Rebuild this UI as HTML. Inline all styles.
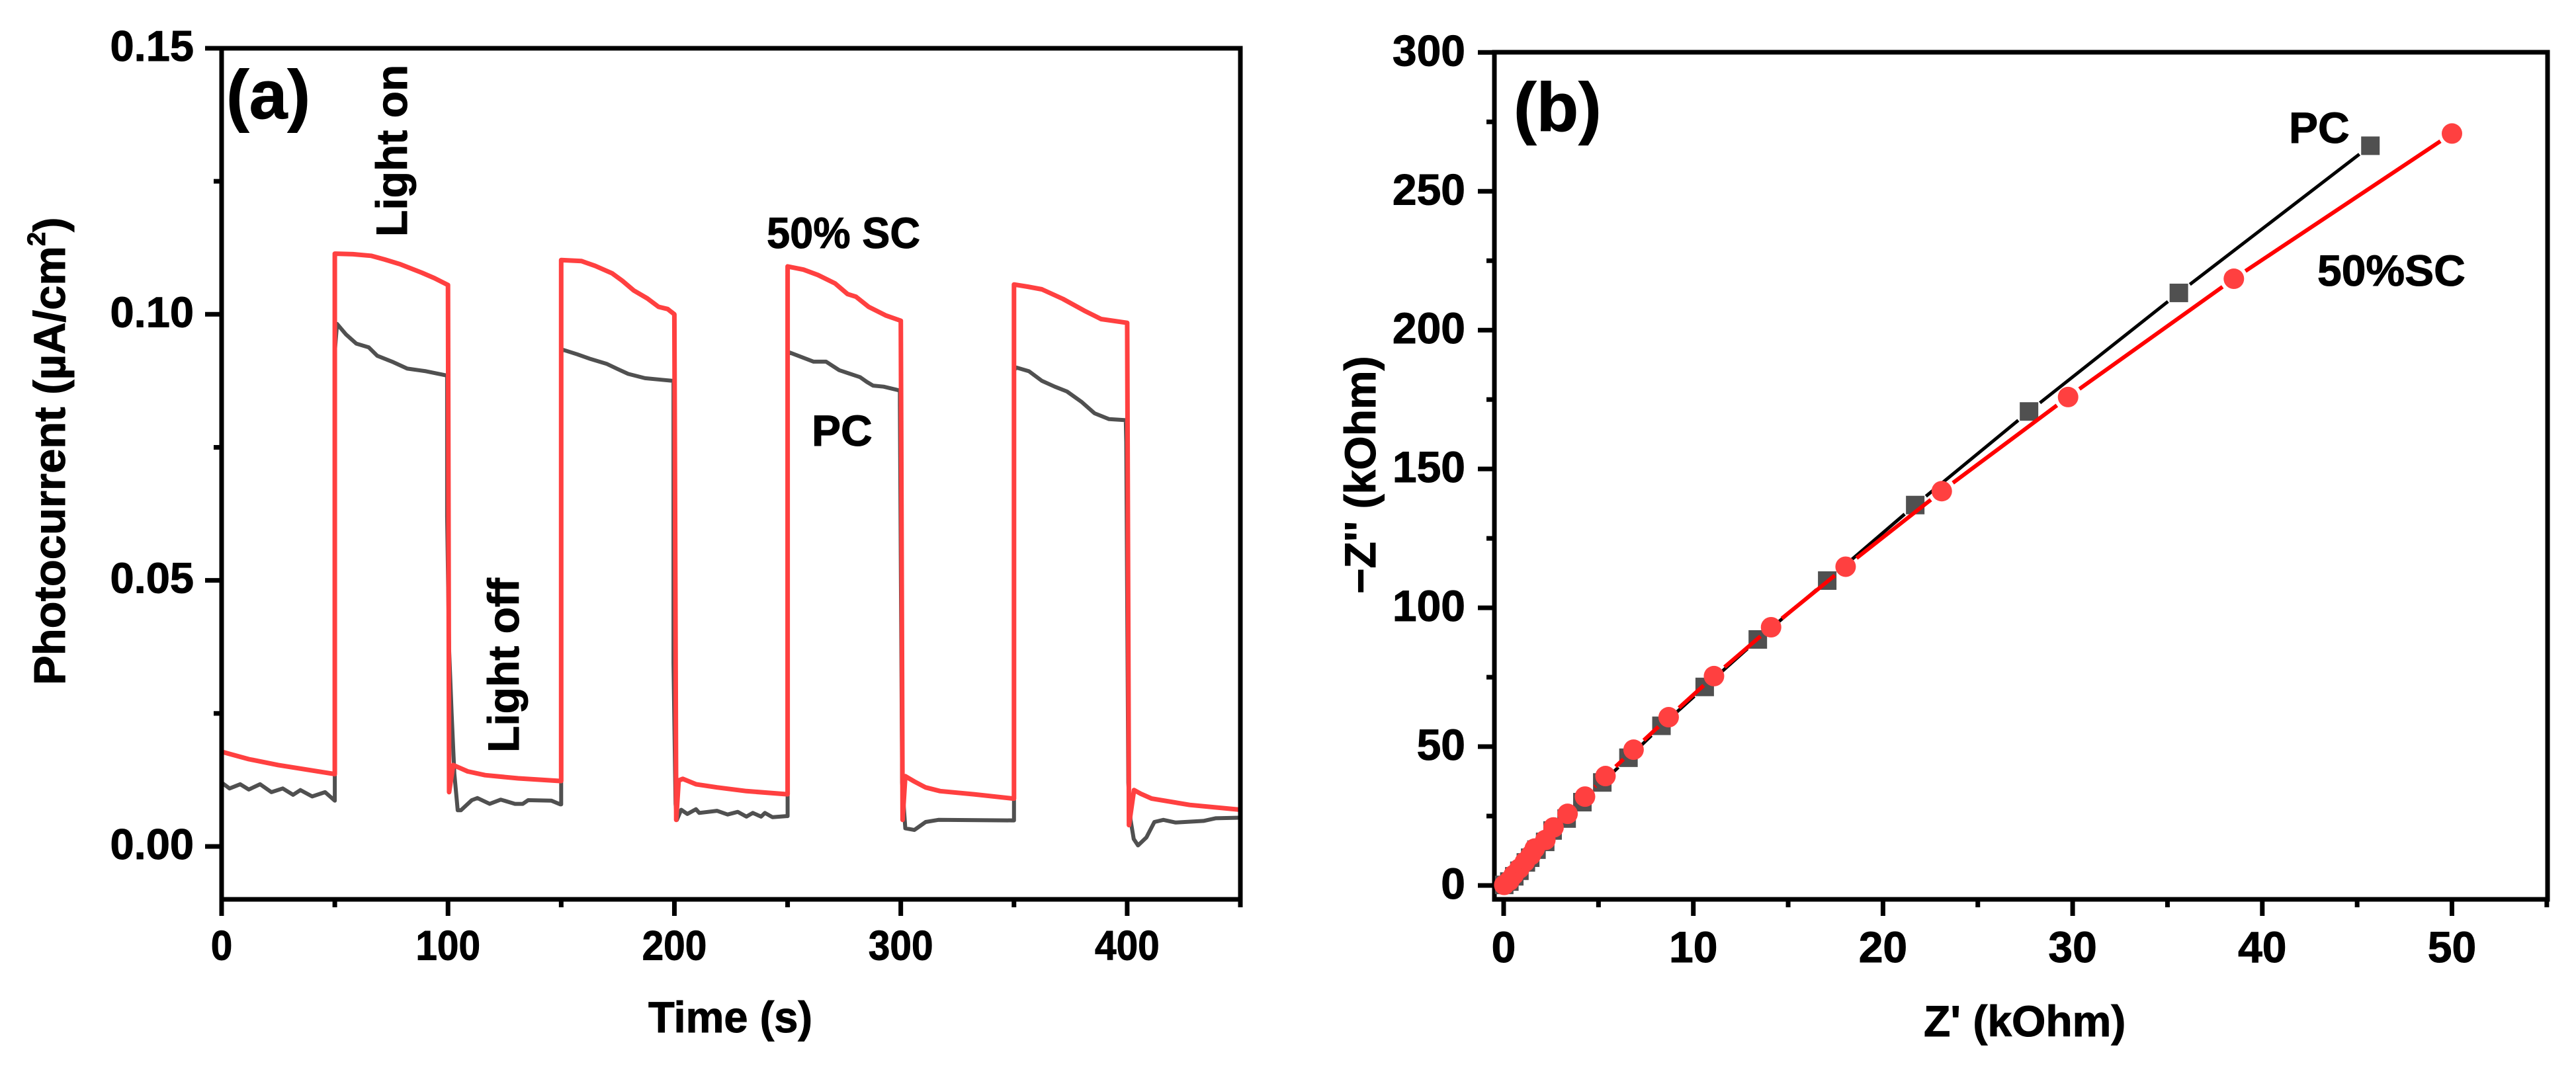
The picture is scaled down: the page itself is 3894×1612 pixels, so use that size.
<!DOCTYPE html>
<html lang="en">
<head>
<meta charset="utf-8">
<title>Photocurrent and impedance charts</title>
<style>
html,body{margin:0;padding:0;background:#fff;width:3894px;height:1612px;overflow:hidden}
svg{display:block}
text{font-family:"Liberation Sans",Arial,sans-serif;font-weight:bold;fill:#000;stroke:#000;stroke-width:1px}
</style>
</head>
<body>
<svg id="figure" xmlns="http://www.w3.org/2000/svg" width="3894" height="1612" viewBox="0 0 3894 1612">
<rect x="0" y="0" width="3894" height="1612" fill="#ffffff"/>
<g id="panel-a"></g>
<g id="panel-b"></g>

<text x="342" y="179" font-size="104">(a)</text>
<text transform="translate(98,1036) rotate(-90)" font-size="67">Photocurrent (µA/cm<tspan font-size="38" dy="-30">2</tspan><tspan dy="30">)</tspan></text>
<text x="980" y="1561" font-size="66" textLength="248" lengthAdjust="spacingAndGlyphs">Time (s)</text>
<text transform="translate(615,358) rotate(-90)" font-size="66">Light on</text>
<text transform="translate(784,1138) rotate(-90)" font-size="66">Light off</text>
<text x="1159" y="375" font-size="66" textLength="232" lengthAdjust="spacingAndGlyphs">50% SC</text>
<text x="1227" y="674" font-size="66">PC</text>

<text x="2288" y="198" font-size="104">(b)</text>
<text transform="translate(2079,898) rotate(-90)" font-size="66">−Z'' (kOhm)</text>
<text x="2908" y="1567" font-size="66">Z' (kOhm)</text>
<text x="3460" y="216" font-size="66">PC</text>
<text x="3503" y="432" font-size="66">50%SC</text>
</svg>

<script>
// Panel (a): photocurrent vs time
const pcTime = [0,3.5,8.2,12,17,22,27,31.6,34.8,40,45.7,50,50,51,55,59.5,65,68.8,75.3,82,90.3,99.4,99.6,99.6,100.5,101.6,102.8,104.3,105.7,110.5,113,118.4,123.3,129.6,133,135.4,145.7,149.6,150,150,151,157,163,170,175,179.6,187,194.4,199.4,199.6,199.6,200.5,201.1,203,205.7,209.5,211,218.8,223.5,228,231.8,234.6,238.3,240,243.3,249.5,250,250,251,261.5,267,272.8,277,282,285,287.7,292.4,299.4,299.6,299.6,300.6,302,306,311,316.6,349.2,350,350,351,356.6,362.3,368,373.4,380,385.6,392,399.4,399.6,400.5,401.5,402.9,404.8,408.5,412,416,421.4,433.7,439,450];
const pcCurrent = [.0120,.0109,.0117,.0107,.0117,.0102,.0109,.0097,.0106,.0094,.0102,.0086,.0930,.0982,.0962,.0945,.0938,.0922,.0911,.0898,.0893,.0885,.0885,.0620,.0370,.0250,.0137,.0068,.0068,.0087,.0091,.0080,.0088,.0080,.0080,.0087,.0086,.0079,.0079,.0930,.0933,.0925,.0916,.0907,.0897,.0888,.0880,.0877,.0875,.0875,.0345,.0080,.0050,.0069,.0061,.0070,.0063,.0067,.0060,.0065,.0056,.0063,.0056,.0063,.0055,.0057,.0057,.0925,.0928,.0911,.0911,.0895,.0889,.0882,.0873,.0866,.0864,.0857,.0857,.0830,.0120,.0034,.0031,.0046,.0050,.0049,.0049,.0895,.0900,.0893,.0875,.0864,.0855,.0835,.0814,.0803,.0801,.0760,.0120,.0050,.0014,.0002,.0017,.0046,.0050,.0045,.0048,.0053,.0054];
const scTime = [0,12,25,50,50,58,66,72,79,88.5,94,100,100.5,102.3,105,108.7,116.4,131,149.5,150,150,159,165,172.5,177,182,188,193,197,200,200.8,201.9,203.7,209.5,218.8,231.8,250,250,257,263.4,271,276.5,280.2,285.8,293.3,300,300.8,302,306,310.9,317.4,332.3,349.7,350,350,356,362.3,371.6,381,388.5,400,400.8,403,406,410.8,427.6,450];
const scCurrent = [.0178,.0164,.0153,.0136,.1114,.1113,.1110,.1103,.1094,.1078,.1068,.1055,.0102,.0153,.0148,.0141,.0134,.0128,.0123,.0123,.1102,.1100,.1091,.1077,.1063,.1045,.1030,.1014,.1010,.1000,.0050,.0124,.0127,.0117,.0111,.0104,.0098,.1090,.1084,.1074,.1058,.1038,.1033,.1014,.0998,.0988,.0050,.0132,.0122,.0111,.0104,.0098,.0090,.0090,.1056,.1052,.1047,.1029,.1007,.0991,.0984,.0040,.0106,.0099,.0090,.0078,.0069];
const timeMajorTicks = [0,100,200,300,400];
const timeMinorTicks = [50,150,250,350,450];
const currentMajorTicks = [0,0.05,0.10,0.15];
const currentMinorTicks = [0.025,0.075,0.125];
const currentTickLabels = ['0.00','0.05','0.10','0.15'];

// Panel (b): Nyquist plot
const pcZre = [45.7,35.6,27.7,21.7,17.06,13.4,10.6,8.32,6.58,5.2,4.15,3.32,2.58,2.19,1.73,1.4,1.17,0.83,0.56,0.3,0.03];
const pcZim = [266.4,213.4,170.7,137,109.8,88.6,71.5,57.5,46,37.1,30,24.1,19.8,15.7,12.9,10,8.3,5.3,3.3,1.4,0.2];
const scZre = [50,38.5,29.76,23.1,18.03,14.1,11.09,8.7,6.85,5.37,4.29,3.37,2.63,2.2,1.64,1.43,1.12,0.83,0.53,0.3,0.03];
const scZim = [270.8,218.5,175.9,142,114.8,93,75.4,60.6,48.9,39.4,32,25.8,20.9,16.4,13.3,10.9,8.5,6.1,3.8,1.7,0.2];
const zreMajorTicks = [0,10,20,30,40,50];
const zreMinorTicks = [5,15,25,35,45,55];
const zimMajorTicks = [0,50,100,150,200,250,300];
const zimMinorTicks = [25,75,125,175,225,275];

const SVG_NS = 'http://www.w3.org/2000/svg';
function make(parent, tag, props) {
  const node = document.createElementNS(SVG_NS, tag);
  for (const key in props) node.setAttribute(key, props[key]);
  parent.appendChild(node);
  return node;
}

// Axis functions
const xA = t => 335 + t * (1875 - 335) / 450;
const yA = v => 1280 - v * 8047;
const xB = z => 2273 + z * 28.67;
const yB = z => 1339 - z * 4.199;

function drawFrame(parent, left, right, top, bottom) {
  const el = make(parent, 'path', {
    d: `M${left} ${top}H${right}V${bottom}H${left}Z`,
    fill: 'none', stroke: '#000', 'stroke-width': 7, 'stroke-linejoin': 'miter'
  });
  
  
}
function tickLine(parent, x1, y1, x2, y2) {
  const el = make(parent, 'line', { x1, y1, x2, y2, stroke: '#000', 'stroke-width': 7 });
  
  
}
function tickText(parent, label, x, y, size, anchor, sx) {
  const el = make(parent, 'text', {
    transform: `translate(${x},${y}) scale(${sx},1)`,
    'font-size': size, 'text-anchor': anchor
  });
  el.textContent = label;
  
  
}
function timeLine(parent, xs, ys, colour, width, name) {
  const d = xs.map((t, i) => (i ? 'L' : 'M') + xA(t).toFixed(1) + ' ' + yA(ys[i]).toFixed(1)).join('');
  const el = make(parent, 'path', {
    d, fill: 'none', stroke: colour, 'stroke-width': width,
    'stroke-linejoin': 'round', 'stroke-linecap': 'butt'
  });
  
  
}
function gappedLine(parent, xs, ys, colour, width, name) {
  const GAP = 21;
  const g = make(parent, 'g', {});
  
  
  for (let i = 0; i < xs.length - 1; i++) {
    const x1 = xB(xs[i]), y1 = yB(ys[i]), x2 = xB(xs[i + 1]), y2 = yB(ys[i + 1]);
    const len = Math.hypot(x2 - x1, y2 - y1);
    if (len <= 2 * GAP) continue;
    const ux = (x2 - x1) / len, uy = (y2 - y1) / len;
    const seg = make(g, 'line', {
      x1: x1 + ux * GAP, y1: y1 + uy * GAP, x2: x2 - ux * GAP, y2: y2 - uy * GAP,
      stroke: colour, 'stroke-width': width
    });
    
    
  }
}

// ---- Panel a ----
const panelA = document.getElementById('panel-a');
timeMajorTicks.forEach(t => {
  tickLine(panelA, xA(t), 1360, xA(t), 1385);
  tickText(panelA, String(t), xA(t), 1451.5, 63, 'middle', 0.93);
});
timeMinorTicks.forEach(t => tickLine(panelA, xA(t), 1360, xA(t), 1372));
currentMajorTicks.forEach((v, i) => {
  tickLine(panelA, 310, yA(v), 335, yA(v));
  tickText(panelA, currentTickLabels[i], 293, yA(v) + 19, 65, 'end', 1);
});
currentMinorTicks.forEach(v => tickLine(panelA, 323, yA(v), 335, yA(v)));
timeLine(panelA, pcTime, pcCurrent, '#505050', 6, 'pc-photocurrent-line');
timeLine(panelA, scTime, scCurrent, '#ff4040', 7, 'sc-photocurrent-line');
drawFrame(panelA, 335, 1875, 73, 1360);

// ---- Panel b ----
const panelB = document.getElementById('panel-b');
zreMajorTicks.forEach(z => {
  tickLine(panelB, xB(z), 1360, xB(z), 1385);
  tickText(panelB, String(z), xB(z), 1455, 66, 'middle', 1);
});
zreMinorTicks.forEach(z => tickLine(panelB, xB(z), 1360, xB(z), 1372));
zimMajorTicks.forEach(z => {
  tickLine(panelB, 2234, yB(z), 2259, yB(z));
  tickText(panelB, String(z), 2215, yB(z) + 20, 66, 'end', 1);
});
zimMinorTicks.forEach(z => tickLine(panelB, 2247, yB(z), 2259, yB(z)));
drawFrame(panelB, 2259, 3851, 79, 1360);

gappedLine(panelB, pcZre, pcZim, '#000000', 5, 'pc-nyquist-line');
pcZre.forEach((z, i) => {
  const el = make(panelB, 'rect', {
    x: xB(z) - 14, y: yB(pcZim[i]) - 14, width: 28, height: 28, fill: '#505050'
  });
  
  
});
gappedLine(panelB, scZre, scZim, '#ff0000', 6, 'sc-nyquist-line');
scZre.forEach((z, i) => {
  const el = make(panelB, 'circle', {
    cx: xB(z), cy: yB(scZim[i]), r: 15.5, fill: '#ff4040'
  });
  
  
});
</script>
</body>
</html>
